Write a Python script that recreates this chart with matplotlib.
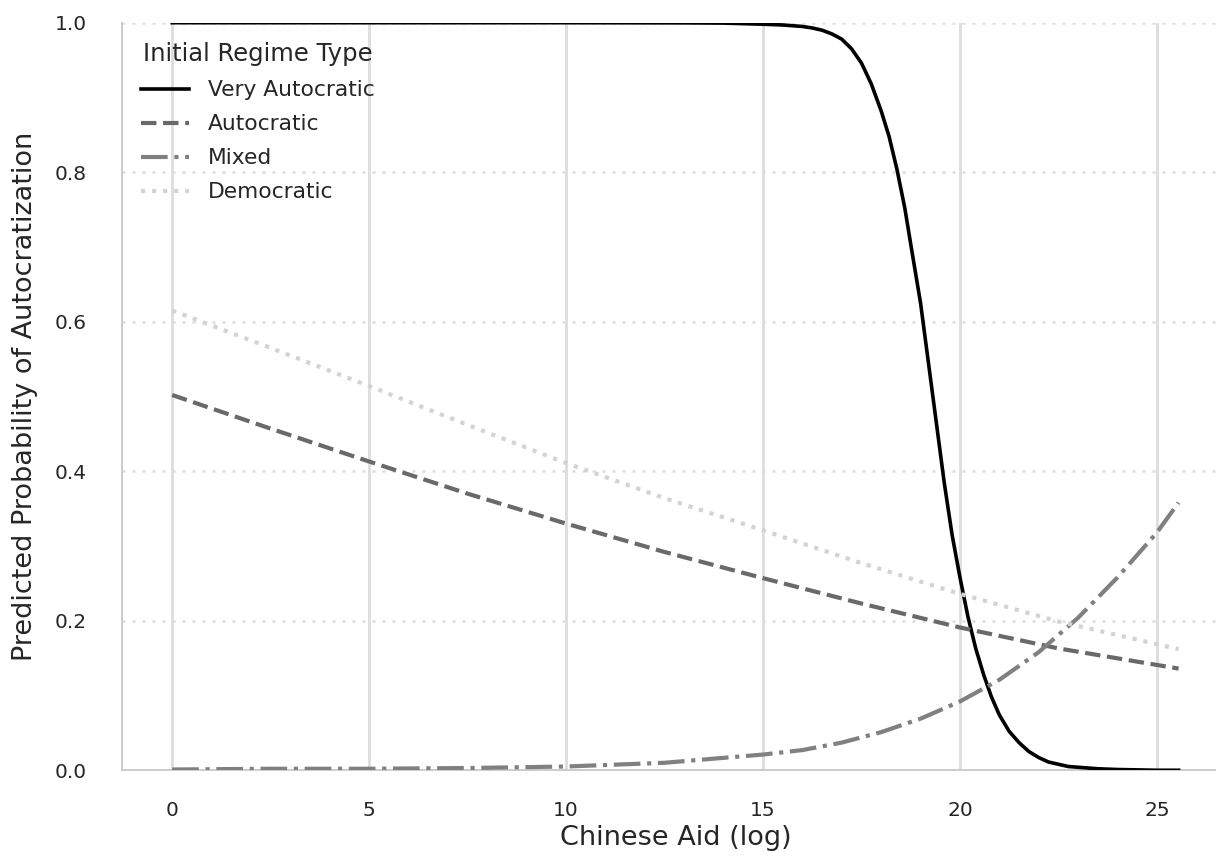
"""Predicted probability of autocratization vs. Chinese aid, by initial regime type."""

import matplotlib

matplotlib.use("Agg")
import matplotlib.pyplot as plt

# values
very_autocratic_x = [0, 5, 10, 13, 14, 15, 15.5, 16, 16.25, 16.5, 16.75, 17,
                     17.25, 17.5, 17.75, 18, 18.2, 18.4, 18.6, 18.8, 19, 19.2,
                     19.4, 19.6, 19.8, 20, 20.2, 20.4, 20.6, 20.8, 21, 21.25,
                     21.5, 21.75, 22, 22.25, 22.5, 22.75, 23, 23.5, 24, 25, 25.55]
very_autocratic_y = [1.0, 1.0, 1.0, 0.9998, 0.9995, 0.998, 0.997, 0.995, 0.993,
                     0.990, 0.985, 0.978, 0.965, 0.946, 0.918, 0.882, 0.848,
                     0.804, 0.752, 0.688, 0.625, 0.545, 0.465, 0.385, 0.315,
                     0.258, 0.206, 0.163, 0.128, 0.098, 0.074, 0.052, 0.037,
                     0.025, 0.017, 0.011, 0.008, 0.005, 0.004, 0.002, 0.001,
                     0.0, 0.0]

autocratic_x = [0, 2.5, 5, 7.5, 10, 12.5, 15, 17.5, 20, 22.5, 25.55]
autocratic_y = [0.502, 0.457, 0.413, 0.370, 0.330, 0.292, 0.257, 0.223, 0.191,
                0.163, 0.136]

mixed_x = [0, 2.5, 5, 7.5, 10, 12.5, 15, 16, 17, 18, 19, 20, 21, 22, 23, 24,
           25, 25.55]
mixed_y = [0.001, 0.002, 0.002, 0.003, 0.005, 0.01, 0.021, 0.027, 0.037, 0.051,
           0.069, 0.092, 0.121, 0.158, 0.204, 0.258, 0.318, 0.358]

democratic_x = [0, 2.5, 5, 7.5, 10, 12.5, 15, 17.5, 20, 22.5, 25.55]
democratic_y = [0.615, 0.565, 0.514, 0.462, 0.411, 0.364, 0.321, 0.277, 0.236,
                0.199, 0.162]

text_color = "0.15"
plt.rcParams["font.family"] = ["DejaVu Sans"]

fig = plt.figure(figsize=(12.16, 8.61), dpi=100)
axis = fig.add_axes([0.1002, 0.1054, 0.9104, 0.8682])

axis.plot(very_autocratic_x, very_autocratic_y, color="black", lw=2.6,
          ls="-", label="Very Autocratic", zorder=3)
axis.plot(autocratic_x, autocratic_y, color="dimgray", lw=3.0,
          ls="--", label="Autocratic", zorder=3)
axis.plot(mixed_x, mixed_y, color="gray", lw=3.0,
          ls="-.", label="Mixed", zorder=3)
axis.plot(democratic_x, democratic_y, color="lightgray", lw=3.0,
          ls=":", label="Democratic", zorder=3)

axis.set_ylim(0, 1)
axis.set_xticks([0, 5, 10, 15, 20, 25])
axis.set_yticks([0.0, 0.2, 0.4, 0.6, 0.8, 1.0])
axis.set_yticklabels(["0.0", "0.2", "0.4", "0.6", "0.8", "1.0"])

axis.grid(axis="x", color="#dddddd", lw=2.0, ls="-", zorder=0)
axis.grid(axis="y", color="#dddddd", lw=1.8, ls=(0, (1.2, 2.8)), zorder=0)
axis.set_axisbelow(True)

for side in ("top", "right"):
    axis.spines[side].set_visible(False)
for side in ("left", "bottom"):
    axis.spines[side].set_color("#cccccc")
    axis.spines[side].set_linewidth(1.4)

axis.tick_params(axis="x", length=0, pad=22, labelsize=14.5, labelcolor=text_color)
axis.tick_params(axis="y", length=0, pad=25, labelsize=14.5, labelcolor=text_color)

axis.set_xlabel("Chinese Aid (log)", fontsize=19.5, color=text_color, labelpad=4)
axis.set_ylabel("Predicted Probability of Autocratization", fontsize=19.5,
                color=text_color, labelpad=12)

legend = axis.legend(title="Initial Regime Type", loc="upper left", frameon=False,
                     fontsize=15.7, title_fontsize=17.5, handlelength=2.2,
                     handletextpad=0.83, labelspacing=0.64)
for text in legend.get_texts():
    text.set_color(text_color)
legend.get_title().set_color(text_color)

fig.savefig("out.png", dpi=100)
plt.close(fig)
